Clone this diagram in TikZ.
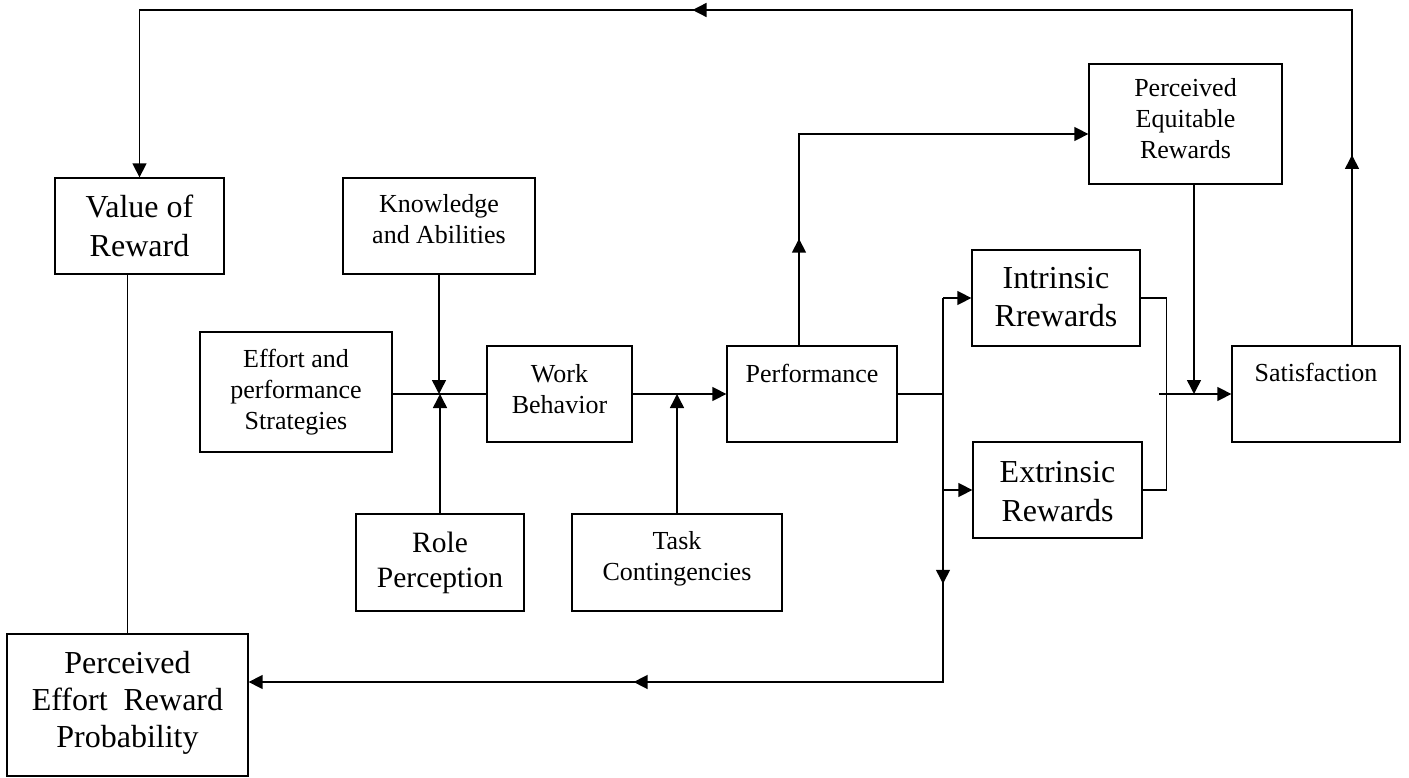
\documentclass[tikz,border=0pt]{standalone}
\usepackage{fontspec}
\setmainfont{Liberation Serif}
\usetikzlibrary{arrows.meta,decorations.markings}
\newcommand{\smalltxt}{\fontsize{26}{31}\selectfont}
\newcommand{\bigtxt}{\fontsize{32}{39}\selectfont}
\begin{document}
\begin{tikzpicture}[x=1pt,y=-1pt,
        block/.style={draw,line width=1.3pt,align=flush center,inner sep=0pt,font=\smalltxt},
        conn/.style={line width=1.5pt},
        arr/.style={conn,-{Triangle[length=14pt,width=14pt]}},
        tipat/.style={postaction={decorate,decoration={markings,
            mark=at position #1 with {\arrow{Triangle[length=14pt,width=14pt]}}}}}]
        \useasboundingbox (0,0) rectangle (1409,778);
        \node[block,font=\bigtxt,text width=169pt,text height=40pt,text depth=56pt] (valr) at (139.5,226) {Value of\\Reward};
        \node[block,text width=192pt,text height=35pt,text depth=61pt] (know) at (439,226) {Knowledge\\and Abilities};
        \node[block,text width=192pt,text height=35pt,text depth=85pt] (effort) at (296,392) {Effort and\\performance\\Strategies};
        \node[block,text width=145pt,text height=36pt,text depth=60pt] (work) at (559.5,394) {Work\\Behavior};
        \node[block,text width=170pt,text height=36pt,text depth=60pt] (perf) at (812,394) {Performance};
        \node[block,font=\fontsize{29.5}{35}\selectfont,text width=168pt,text height=38pt,text depth=59pt] (role) at (440,562.5) {Role\\Perception};
        \node[block,text width=210pt,text height=35pt,text depth=62pt] (task) at (677,562.5) {Task\\Contingencies};
        \node[block,text width=193pt,text height=33pt,text depth=87pt] (equit) at (1185.5,124) {Perceived\\Equitable\\Rewards};
        \node[block,font=\bigtxt,text width=168pt,text height=38pt,text depth=58pt] (intr) at (1056,298) {Intrinsic\\Rrewards};
        \node[block,font=\bigtxt,text width=169pt,text height=40pt,text depth=56pt] (extr) at (1057.5,490) {Extrinsic\\Rewards};
        \node[block,text width=168pt,text height=35pt,text depth=61pt] (satis) at (1316,394) {Satisfaction};
        \node[block,font=\fontsize{32}{37}\selectfont,text width=241pt,text height=39pt,text depth=103pt] (perp) at (127.5,705) {Perceived\\Effort~~Reward\\Probability};
        \coordinate (joint) at (1159,394);
        \coordinate (bus) at (943,682);
        \coordinate (ret) at (1352,10);
        \draw[conn] (effort.east |- work.west) -- (work.west);
        \draw[arr] (know.south) -- (know.south |- work.west);
        \draw[arr] (role.north) -- (role.north |- work.west);
        \draw[arr] (work.east) -- (perf.west);
        \draw[arr] (task.north) -- (task.north |- work.east);
        \draw[arr,tipat=0.213] ([xshift=-13pt]perf.north) |- ([yshift=-10pt]equit.west);
        \draw[arr] ([xshift=8.5pt]equit.south) -- ([xshift=8.5pt]equit.south |- satis.west);
        \draw[conn] (intr.east) -- ++(26,0) |- (extr.east);
        \draw[arr] (joint) -- (satis.west);
        \draw[conn] (perf.east) -- (perf.east -| bus);
        \draw[arr] (bus |- intr.west) -- (intr.west);
        \draw[arr] (bus |- extr.west) -- (extr.west);
        \draw[arr,tipat=0.265,tipat=0.643] (bus |- intr.west) -- (bus) -- (bus -| perp.east);
        \draw[conn] (valr.south -| perp.north) -- (perp.north);
        \draw[arr,tipat=0.111,tipat=0.580] (satis.north -| ret) -- (ret) -- (valr.north |- ret) -- (valr.north);
\end{tikzpicture}
\end{document}
